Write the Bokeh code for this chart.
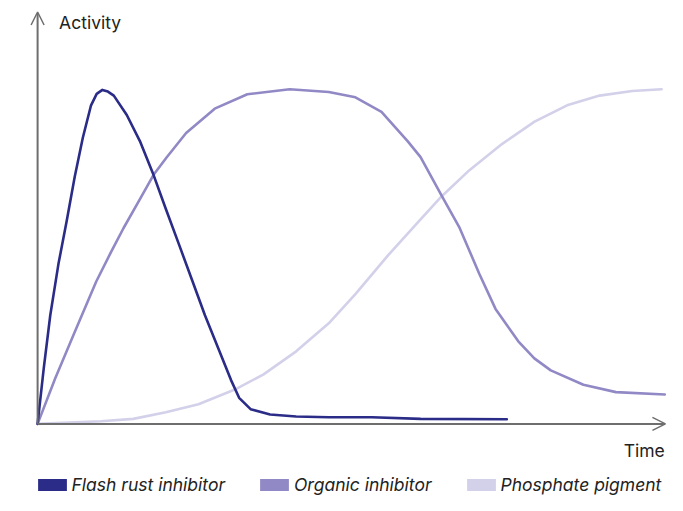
from bokeh.plotting import figure
from bokeh.models import Range1d, Arrow, OpenHead, Label, Legend, LegendItem
from bokeh.embed import file_html
from bokeh.resources import INLINE

# ---- data (time and activity in relative units) ----
flash_t = [0, 0.98, 2.02, 3.32, 4.63, 5.92, 7.21, 8.52, 9.42, 10.33, 11.21, 12.15,
           14.22, 16.31, 18.38, 20.45, 22.54, 24.61, 26.68, 28.77, 30.84, 32.13,
           33.96, 37.07, 41.23, 46.42, 53.27, 61.06, 74.81]
flash_a = [0, 16.6, 32.5, 47.8, 60.6, 73.9, 85.6, 95.3, 98.7, 99.9, 99.4, 98.2,
           92.4, 84.6, 75.0, 64.3, 53.7, 43.1, 32.5, 22.8, 13.1, 7.8,
           4.4, 2.8, 2.2, 2.0, 2.0, 1.5, 1.4]

organic_t = [0, 2.80, 5.92, 9.35, 11.68, 13.71, 15.89, 18.49, 20.56, 23.68, 28.24,
             33.44, 40.19, 46.42, 50.67, 54.83, 58.99, 61.06, 64.44, 67.29, 70.40,
             73.01, 76.64, 79.2, 81.82, 87.02, 92.21, 100]
organic_a = [0, 13.6, 27.5, 42.6, 51.3, 58.6, 65.8, 74.5, 79.7, 87.0, 94.3,
             98.6, 100.1, 99.3, 97.7, 93.3, 84.6, 79.8, 68.2, 58.6, 45.0,
             34.4, 24.7, 19.6, 16.0, 11.7, 9.5, 8.8]

phosphate_t = [0, 10.08, 15.26, 20.45, 25.65, 31.36, 36.03, 41.23, 46.42, 50.67,
               55.87, 61.06, 64.44, 68.85, 74.03, 79.24, 84.42, 89.61, 94.81, 99.49]
phosphate_a = [0, 0.8, 1.5, 3.5, 5.9, 10.2, 14.8, 21.7, 30.1, 38.8,
               50.4, 61.2, 68.1, 75.9, 83.7, 90.4, 95.3, 98.2, 99.6, 100.1]

series_names = ["Flash rust inhibitor", "Organic inhibitor", "Phosphate pigment"]
colors = ["#2b2c88", "#9189c5", "#d3d0ea"]

x_label = "Time"
y_label = "Activity"

FONT = "Inter"
AXIS_COLOR = "#6e6e6e"
TEXT_COLOR = "#222222"

p = figure(width=667, height=495, output_backend="svg", toolbar_location=None,
           x_range=Range1d(-5.915, 100.43), y_range=Range1d(-21.42, 126.65),
           min_border=0, min_border_left=0, min_border_right=0,
           min_border_top=0, min_border_bottom=0,
           x_axis_location=None, y_axis_location=None)
p.grid.visible = False
p.outline_line_color = None
p.background_fill_color = "white"
p.border_fill_color = "white"

# axes drawn as arrows
p.add_layout(Arrow(end=OpenHead(size=13, line_color=AXIS_COLOR, line_width=1.5),
                   x_start=0, y_start=0, x_end=0, y_end=123.2,
                   line_color=AXIS_COLOR, line_width=2))
p.add_layout(Arrow(end=OpenHead(size=13, line_color=AXIS_COLOR, line_width=1.5),
                   x_start=0, y_start=0, x_end=100.1, y_end=0,
                   line_color=AXIS_COLOR, line_width=2))

series = [(phosphate_t, phosphate_a, colors[2]),
          (organic_t, organic_a, colors[1]),
          (flash_t, flash_a, colors[0])]
for t, a, c in series:
    p.line(t, a, line_color=c, line_width=2.6, line_join="round", line_cap="round")

p.add_layout(Label(x=3.43, y=120.0, text=y_label, text_font=FONT, text_font_size="17.5px",
                   text_color=TEXT_COLOR, text_baseline="middle", text_align="left"))
p.add_layout(Label(x=100.0, y=-7.84, text=x_label, text_font=FONT, text_font_size="17.5px",
                   text_color=TEXT_COLOR, text_baseline="middle", text_align="right"))

# legend with filled rectangles (swatch renderers carry no visible data)
nan = float("nan")
items = []
for name, c in zip(series_names, colors):
    q = p.quad(left=[nan], right=[nan], bottom=[nan], top=[nan],
               fill_color=c, line_color=None)
    items.append(LegendItem(label=name, renderers=[q]))

legend = Legend(items=items, location=(33.5, 0), orientation="horizontal",
                glyph_width=36, glyph_height=15, label_standoff=2, spacing=31,
                padding=0, margin=0, border_line_alpha=0, background_fill_alpha=0,
                label_text_font=FONT, label_text_font_size="17.5px",
                label_text_font_style="italic", label_text_color=TEXT_COLOR)
p.add_layout(legend)

open("out.html", "w").write(file_html(p, INLINE))
